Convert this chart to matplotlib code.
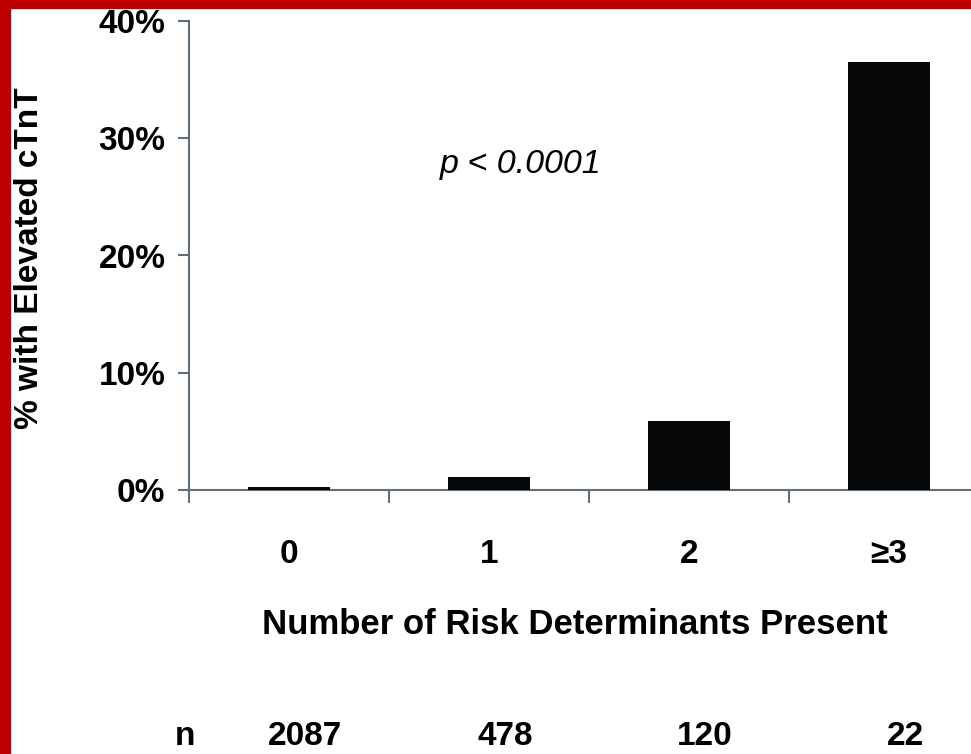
import matplotlib.pyplot as plt
from matplotlib.patches import Rectangle
from matplotlib.ticker import FixedLocator, FuncFormatter

plt.rcParams['font.family'] = ['Liberation Sans', 'DejaVu Sans']

# data
categories = ['0', '1', '2', '≥3']
pct_elevated = [0.25, 1.1, 5.9, 36.5]
n_counts = ['2087', '478', '120', '22']
yticks = [0, 10, 20, 30, 40]

spine_col = '#5f6f7c'

fig = plt.figure(figsize=(9.71, 7.54), dpi=100)
ax = fig.add_axes([189 / 971, 1 - 490 / 754, 1 - 189 / 971, (490 - 21) / 754])

x = list(range(len(categories)))
ax.bar(x, pct_elevated, width=0.41, color='#050708', zorder=3)

ax.set_xlim(-0.5, 3.41)
ax.set_ylim(0, 40)

# spines
for s in ['top', 'right']:
    ax.spines[s].set_visible(False)
for s in ['left', 'bottom']:
    ax.spines[s].set_color(spine_col)
    ax.spines[s].set_linewidth(1.5)

# y axis
ax.set_yticks(yticks)
ax.yaxis.set_major_formatter(FuncFormatter(lambda v, p: f'{int(v)}%'))
ax.tick_params(axis='y', direction='out', length=8, width=1.5, color=spine_col,
               labelsize=24, pad=9)
for lbl in ax.get_yticklabels():
    lbl.set_fontweight('bold')

# x axis: separator ticks between groups, labels at bar centres
ax.xaxis.set_major_locator(FixedLocator([-0.5, 0.5, 1.5, 2.5]))
ax.xaxis.set_major_formatter(FuncFormatter(lambda v, p: ''))
ax.xaxis.set_minor_locator(FixedLocator(x))
ax.set_xticklabels(categories, minor=True)
ax.tick_params(axis='x', which='major', direction='out', length=9, width=1.5, color=spine_col)
ax.tick_params(axis='x', which='minor', length=0, labelsize=24, pad=35)
for lbl in ax.get_xticklabels(minor=True):
    lbl.set_fontweight('bold')

ax.text(1.16, 27.8, 'p < 0.0001', fontsize=24.5, style='italic', ha='center', va='center')

fig.text(575 / 971, 1 - 625 / 754, 'Number of Risk Determinants Present',
         fontsize=25, fontweight='bold', ha='center', va='center')
fig.text(30 / 971, 1 - 258 / 754, '% with Elevated cTnT', rotation=90,
         fontsize=24, fontweight='bold', ha='center', va='center')

# n row below the chart
fig.text(185 / 971, 2 / 754, 'n', fontsize=24, fontweight='bold', ha='center', va='bottom')
for i, n in enumerate(n_counts):
    xf = ax.transData.transform((i + 0.08, 0))[0] / fig.bbox.width
    fig.text(xf, 2 / 754, n, fontsize=24, fontweight='bold', ha='center', va='bottom')

# red frame on top and left
fig.patches.append(Rectangle((0, 0), 10 / 971, 1, transform=fig.transFigure,
                             color='#c00000', zorder=10))
fig.patches.append(Rectangle((0, 1 - 8 / 754), 1, 8 / 754, transform=fig.transFigure,
                             color='#c00000', zorder=10))

fig.savefig('out.png', dpi=100)
